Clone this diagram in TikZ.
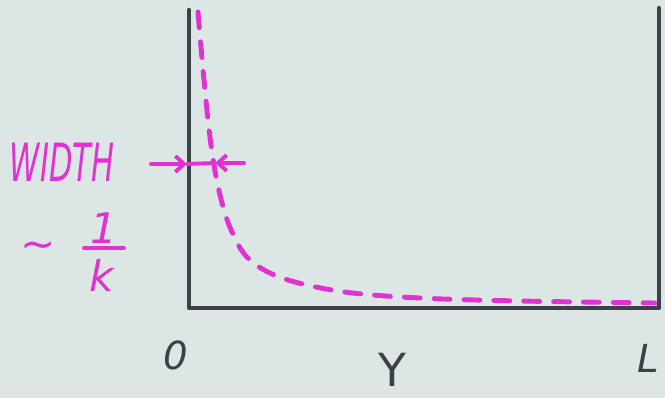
\documentclass[tikz,border=0pt]{standalone}
\usepackage{fontspec}
\setmainfont{DejaVu Sans}
\usetikzlibrary{arrows.meta}
\definecolor{board}{HTML}{DCE7E5}
\definecolor{ink}{HTML}{3C4148}
\definecolor{mag}{HTML}{E032D2}
\tikzset{
  wall/.style={draw=ink, line width=2.4pt, line cap=round, line join=round},
  curve/.style={draw=mag, line width=2.8pt, line cap=round, dash pattern=on 9pt off 8pt},
  magtext/.style={text=mag, font=\fontsize{24}{26}\selectfont\itshape, inner sep=0pt},
  axtext/.style={text=ink, font=\fontsize{22}{24}\selectfont\itshape, inner sep=0pt},
  magline/.style={draw=mag, line width=2.2pt, line cap=round},
  marrow/.style={magline, -{Straight Barb[length=5pt,width=9pt]}},
}
\begin{document}
\begin{tikzpicture}[x=0.02cm, y=-0.02cm]
\fill[board] (0,0) rectangle (665,398);
\useasboundingbox (0,0) rectangle (665,398);
% walls
\coordinate (tl) at (189,10);
\coordinate (bl) at (189,308);
\coordinate (br) at (659,308);
\coordinate (tr) at (659,8);
\draw[wall] (tl) -- (bl) -- (br) -- (tr);
% decay curve
\draw[curve] plot[smooth, tension=0.6] coordinates {(198,12) (204,80) (211,145) (220,195) (232,232) (250,260) (285,279) (345,292) (420,298) (520,301) (655,303)};
% width marker
\node[magtext, font=\fontsize{30}{32}\selectfont\itshape, xscale=0.58] (width) at (62,162) {WIDTH};
\coordinate (wl) at (151,164);
\coordinate (wm) at (187,164);
\coordinate (wr) at (244,163);
\coordinate (wn) at (215,163);
\draw[marrow] (wl) -- (wm);
\draw[marrow] (wr) -- (wn);
\draw[magline] (wm) -- (wn);
% ~ 1/k
\node[magtext, font=\fontsize{24}{26}\selectfont] (tilde) at (38,250) {\char"223C};
\node[magtext] (one) at (104,228) {1};
\coordinate (barl) at (84,248);
\coordinate (barr) at (124,248);
\draw[magline] (barl) -- (barr);
\node[magtext] (kay) at (102,275) {k};
% axis labels
\node[axtext] (zero) at (176,355) {0};
\node[axtext, font=\fontsize{26}{28}\selectfont] (ylab) at (392,370) {Y};
\node[axtext] (llab) at (648,358) {L};
\end{tikzpicture}
\end{document}
